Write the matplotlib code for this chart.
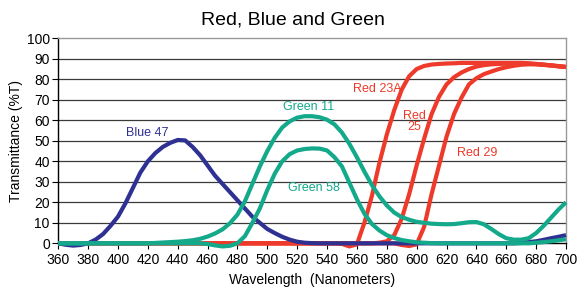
import numpy as np
import matplotlib
matplotlib.use("Agg")
import matplotlib.pyplot as plt

plt.rcParams['font.family'] = ['Liberation Sans', 'DejaVu Sans']

wavelength = list(range(360, 701, 5))

blue_47 = [0, -0.7, -1.1, -0.8, 0, 1.8, 4.5, 8.5, 13, 19.5, 27, 34.5, 40, 44, 47, 49, 50.4, 50.2,
           47, 43, 38, 33, 29, 25, 21, 17, 13, 10, 7, 5, 3.2, 1.8, 0.8, 0.3, 0.1] + [0] * 27 + \
          [0.2, 0.6, 1, 1.7, 2.5, 3.2, 4]

green_11 = [0] * 13 + [0.2, 0.4, 0.6, 0.8, 1.1, 1.5, 2.2, 3.3, 4.8, 6.8,
                      9.8, 14, 20.5, 29, 37.5, 45, 51.5, 56.5, 59.5, 61.3,
                      62, 62, 61.5, 60.3, 58, 54, 48.5, 42, 35, 28.5,
                      23, 18.5, 15, 12.8, 11.5, 10.5, 10, 9.6, 9.4, 9.3,
                      9.4, 9.8, 10.3, 10.4, 9.3, 7, 4.5, 2.5, 1.8, 1.8,
                      2.5, 5, 8.5, 12.5, 16.5, 20]

green_58 = [0] * 20 + [-0.3, -1, -1.5, -1.2, 0, 3.5, 10, 17, 26, 34,
                       40, 43.5, 45.3, 46, 46.3, 46.2, 45.3, 42, 37.5, 29.5,
                       21.5, 14.5, 9.5, 6.3, 4, 2.6, 1.6, 1, 0.5, 0.3, 0.1] + \
           [0] * 13 + [0.3, 0.6, 1, 1.5, 2]

red_23a = [0] * 38 + [-0.3, -1.5, -0.5, 10, 23, 39, 53, 65, 75, 81.5, 85, 86.5, 87.2, 87.5,
                      87.7, 87.8] + [88] * 9 + [87.8, 87.5, 87.2, 86.8, 86.4, 86]

red_25 = [0] * 43 + [0.3, 1, 4, 12, 24, 38, 51, 63, 71.5, 77.5, 81, 83.3, 85, 86.2, 86.9, 87.3,
                     87.5, 87.6, 87.7, 87.7, 87.6, 87.4, 87.1, 86.8, 86.4, 86]

red_29 = [0] * 46 + [-0.8, -1.3, -0.5, 8, 24, 38, 52, 63, 71, 77.5, 80.5, 82.5, 83.8, 85, 85.9,
                     86.6, 87.1, 87.3, 87.3, 87, 86.7, 86.3, 86]

x_ticks = list(range(360, 701, 20))
y_ticks = list(range(0, 101, 10))

BLUE = '#2E3192'
GREEN = '#14A98B'
RED = '#EE3A2A'

fig = plt.figure(figsize=(5.85, 2.89), dpi=100)
ax = fig.add_axes([0.0995, 0.158, 0.868, 0.7095])

for yv in y_ticks[1:-1]:
    ax.axhline(yv, color='#3a3a3a', lw=0.9, zorder=1)

lw = 3.0
for series in (red_23a, red_25, red_29):
    ax.plot(wavelength, series, color=RED, lw=lw, solid_capstyle='butt', clip_on=False, zorder=3)
ax.plot(wavelength, blue_47, color=BLUE, lw=lw, solid_capstyle='butt', clip_on=False, zorder=4)
for series in (green_58, green_11):
    ax.plot(wavelength, series, color=GREEN, lw=lw, solid_capstyle='butt', clip_on=False, zorder=5)

ax.set_xlim(360, 700)
ax.set_ylim(0, 100)
ax.set_xticks(x_ticks)
ax.set_yticks(y_ticks)
ax.tick_params(axis='both', direction='out', length=4, width=0.8, labelsize=10, pad=2)
ax.tick_params(axis='x', pad=3)

for side in ('top', 'right'):
    ax.spines[side].set_color('#9a9a9a')
    ax.spines[side].set_linewidth(1.0)
for side in ('left', 'bottom'):
    ax.spines[side].set_color('black')
    ax.spines[side].set_linewidth(1.0)

ax.set_xlabel('Wavelength  (Nanometers)', fontsize=10, labelpad=4)
ax.set_ylabel('Transmittance (%T)', fontsize=10, labelpad=3)
fig.text(0.5, 0.93, 'Red, Blue and Green', ha='center', va='center', fontsize=14)

lab = dict(fontsize=9, ha='center', va='center')
ax.text(419.5, 53.8, 'Blue 47', color=BLUE, **lab)
ax.text(527.6, 66.3, 'Green 11', color=GREEN, **lab)
ax.text(531.3, 27.2, 'Green 58', color=GREEN, **lab)
ax.text(573.7, 75.2, 'Red 23A', color=RED, **lab)
ax.text(598.5, 59.5, 'Red\n25', color=RED, linespacing=0.9, **lab)
ax.text(640.3, 44, 'Red 29', color=RED, **lab)

fig.savefig('out.png', dpi=100)
